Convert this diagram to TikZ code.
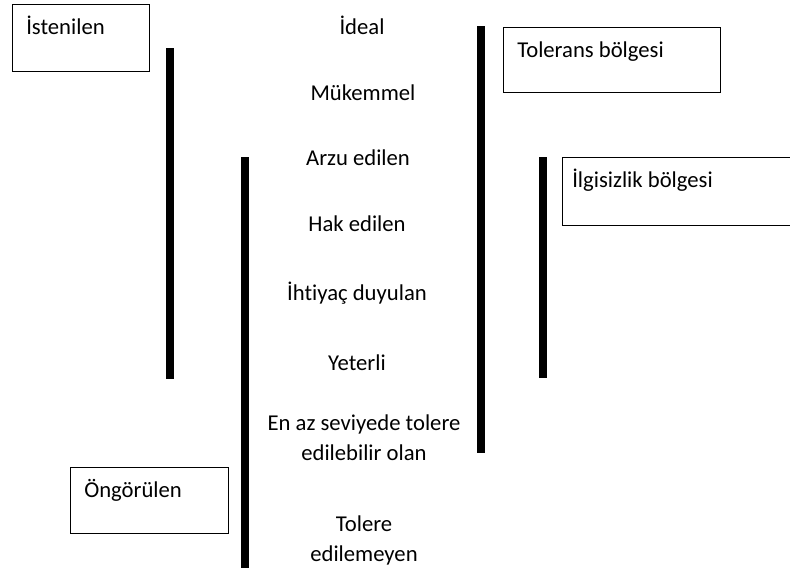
\documentclass[tikz,border=0pt]{standalone}
\usepackage{fontspec}
\setmainfont[Ligatures=NoCommon]{Carlito}
\usetikzlibrary{positioning}
\tikzset{
  level/.style={align=center,font=\fontsize{17}{22.5}\selectfont,inner sep=0pt},
  zonebox/.style={rectangle,draw=black,line width=1.1pt,anchor=north west,inner sep=0pt},
  zonetext/.style={anchor=base west,font=\fontsize{17}{22.5}\selectfont,inner sep=0pt,xshift=10.5pt,yshift=-23pt},
  bar/.style={line width=6pt,draw=black}
}
\begin{document}
\begin{tikzpicture}[x=0.75pt,y=-0.75pt]
  \useasboundingbox (0,0) rectangle (790,576);
  % levels
  \node[level] (ideal) at (362,25) {İdeal};
  \node[level] (mukemmel) at (363,93) {Mükemmel};
  \node[level] (arzu) at (358,158) {Arzu edilen};
  \node[level] (hak) at (357,224) {Hak edilen};
  \node[level] (ihtiyac) at (357,293) {İhtiyaç duyulan};
  \node[level] (yeterli) at (357,363) {Yeterli};
  \node[level] (enaz) at (364,438) {En az seviyede tolere\\edilebilir olan};
  \node[level] (tolere) at (364,540) {Tolere\\edilemeyen};
  % boxes
  \node[zonebox,minimum width=102.75pt,minimum height=50.25pt,
    label={[zonetext]north west:İstenilen}] (istenilen) at (12,4) {};
  \node[zonebox,minimum width=162.75pt,minimum height=48.75pt,
    label={[zonetext]north west:Tolerans bölgesi}] (tolerans) at (503,27) {};
  \node[zonebox,minimum width=174pt,minimum height=51pt,
    label={[zonetext,xshift=-3pt]north west:İlgisizlik bölgesi}] (ilgisizlik) at (562,157) {};
  \node[zonebox,minimum width=118.5pt,minimum height=49.5pt,
    label={[zonetext]north west:Öngörülen}] (ongorulen) at (70,467) {};
  % bars
  \coordinate (b1top) at (170,48);  \coordinate (b1bot) at (170,379);
  \coordinate (b2top) at (481,26);  \coordinate (b2bot) at (481,453);
  \coordinate (b3top) at (543,157); \coordinate (b3bot) at (543,378);
  \coordinate (b4top) at (245,157); \coordinate (b4bot) at (245,568);
  \draw[bar] (b1top) -- (b1bot);
  \draw[bar] (b2top) -- (b2bot);
  \draw[bar] (b3top) -- (b3bot);
  \draw[bar] (b4top) -- (b4bot);
\end{tikzpicture}
\end{document}
